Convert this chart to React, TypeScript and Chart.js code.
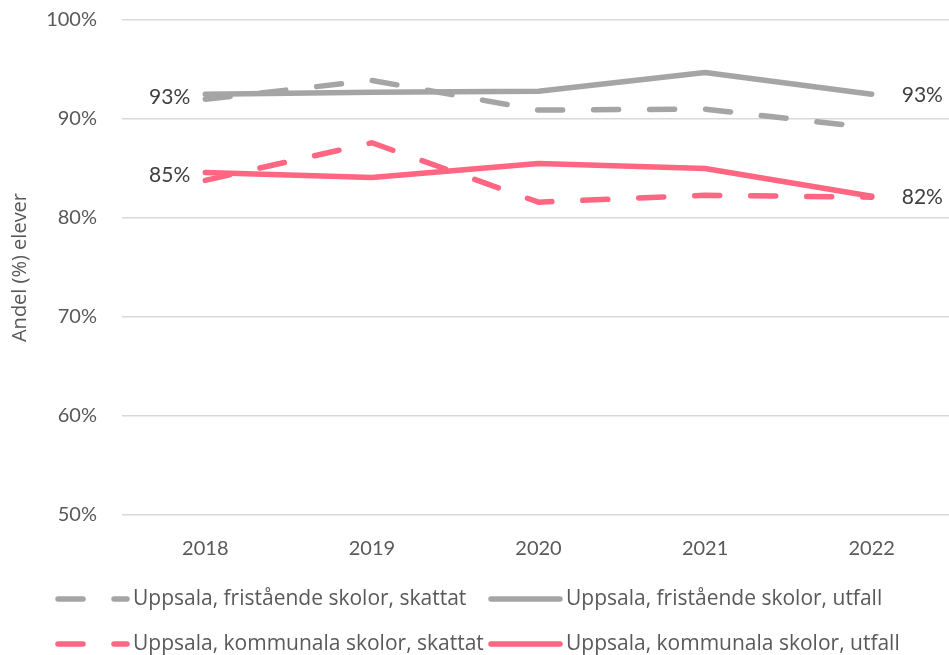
import React, { useEffect, useRef } from 'react';
import { Chart, registerables } from 'chart.js';

Chart.register(...registerables);

const FONT = 'Lato';
const TEXT_FONT = 'Open Sans';
const TEXT = '#595959';

const years = ['2018', '2019', '2020', '2021', '2022'];
const friSkattat = [92.0, 93.9, 90.9, 91.0, 89.1];
const friUtfall = [92.5, 92.7, 92.8, 94.7, 92.5];
const komSkattat = [83.8, 87.6, 81.6, 82.3, 82.1];
const komUtfall = [84.6, 84.1, 85.5, 85.0, 82.2];
const seriesNames = [
  'Uppsala, fristående skolor, skattat',
  'Uppsala, fristående skolor, utfall',
  'Uppsala, kommunala skolor, skattat',
  'Uppsala, kommunala skolor, utfall',
];
// [datasetIndex, pointIndex, side]
const endLabels: [number, number, string][] = [
  [1, 0, 'left'],
  [3, 0, 'left'],
  [1, 4, 'right'],
  [3, 4, 'right'],
];

const GRAY = '#A5A5A5';
const PINK = '#FF6682';

// widen the plot area slightly past the right canvas edge (as in the original, which is cropped there)
const widenPlugin = {
  id: 'widen',
  afterLayout(chart: any) {
    const extra = 6;
    const x = chart.scales.x;
    x.right += extra;
    x.width += extra;
    x.configure();
    chart.chartArea.right += extra;
    chart.chartArea.width += extra;
  },
};

const endLabelPlugin = {
  id: 'endLabels',
  afterDatasetsDraw(chart: any) {
    const ctx = chart.ctx;
    ctx.save();
    ctx.font = `21px ${FONT}`;
    ctx.fillStyle = '#404040';
    ctx.textBaseline = 'middle';
    endLabels.forEach(([di, idx, side]) => {
      const pt = chart.getDatasetMeta(di).data[idx];
      const v = chart.data.datasets[di].data[idx];
      const text = Math.round(v) + '%';
      if (side === 'left') {
        ctx.textAlign = 'right';
        ctx.fillText(text, pt.x - 15, pt.y + 3);
      } else {
        ctx.textAlign = 'left';
        ctx.fillText(text, pt.x + 30, pt.y + 1);
      }
    });
    ctx.restore();
  },
};

const gridLegendPlugin = {
  id: 'gridLegend',
  afterDraw(chart: any) {
    const ctx = chart.ctx;
    const cols = [55, 488];
    const rows = [599, 644];
    chart.data.datasets.forEach((ds: any, i: number) => {
      const x = cols[i % 2];
      const y = rows[Math.floor(i / 2)];
      ctx.save();
      ctx.strokeStyle = ds.borderColor;
      ctx.lineWidth = ds.borderWidth;
      ctx.lineCap = 'round';
      ctx.setLineDash(ds.borderDash || []);
      ctx.beginPath();
      ctx.moveTo(x + 3, y);
      ctx.lineTo(x + 72, y);
      ctx.stroke();
      ctx.setLineDash([]);
      ctx.fillStyle = TEXT;
      ctx.font = `21px ${TEXT_FONT}`;
      ctx.textBaseline = 'middle';
      ctx.textAlign = 'left';
      ctx.fillText(ds.label, x + 78, y);
      ctx.restore();
    });
  },
};

export default function App() {
  const ref = useRef<HTMLCanvasElement | null>(null);
  useEffect(() => {
    if (!ref.current) return;
    const mk = (label: string, data: number[], color: string, dashed: boolean) => ({
      label,
      data,
      borderColor: color,
      backgroundColor: color,
      borderWidth: 5.5,
      borderDash: dashed ? [25, 31] : [],
      borderCapStyle: 'round',
      borderJoinStyle: 'round',
      pointRadius: 0,
      pointHoverRadius: 0,
      tension: 0,
      fill: false,
    });
    const chart = new Chart(ref.current, {
      type: 'line',
      data: {
        labels: years,
        datasets: [
          mk(seriesNames[0], friSkattat, GRAY, true),
          mk(seriesNames[1], friUtfall, GRAY, false),
          mk(seriesNames[2], komSkattat, PINK, true),
          mk(seriesNames[3], komUtfall, PINK, false),
        ] as any,
      },
      options: {
        responsive: true,
        maintainAspectRatio: false,
        animation: false,
        layout: { padding: { top: 20, right: 0, bottom: 95, left: 0 } },
        plugins: {
          legend: { display: false },
          tooltip: { enabled: false },
        },
        scales: {
          x: {
            offset: true,
            grid: { display: false, offset: true },
            border: { display: false },
            ticks: { color: TEXT, font: { family: FONT, size: 20 }, padding: 14 },
            afterFit: (s: any) => { s.height = 45; },
          },
          y: {
            min: 50,
            max: 100,
            ticks: {
              stepSize: 10,
              color: TEXT,
              font: { family: FONT, size: 20 },
              padding: 25,
              callback: (v: any) => v + '%',
            },
            grid: { color: '#D9D9D9', lineWidth: 1.5, drawTicks: false },
            border: { display: false },
            title: {
              display: true,
              text: 'Andel (%) elever',
              color: TEXT,
              font: { family: TEXT_FONT, size: 20 },
              padding: { top: 8, bottom: 0 },
            },
            afterFit: (s: any) => {
              s.width = 122;
              s.paddingTop = 12;
              s.paddingBottom = 12;
            },
          },
        },
      } as any,
      plugins: [widenPlugin, endLabelPlugin, gridLegendPlugin],
    });
    return () => chart.destroy();
  }, []);
  return (
    <div style={{ width: 949, height: 655, position: 'relative', overflow: 'hidden' }}>
      <style>{'body{margin:0;overflow:hidden}'}</style>
      <canvas ref={ref} />
    </div>
  );
}
